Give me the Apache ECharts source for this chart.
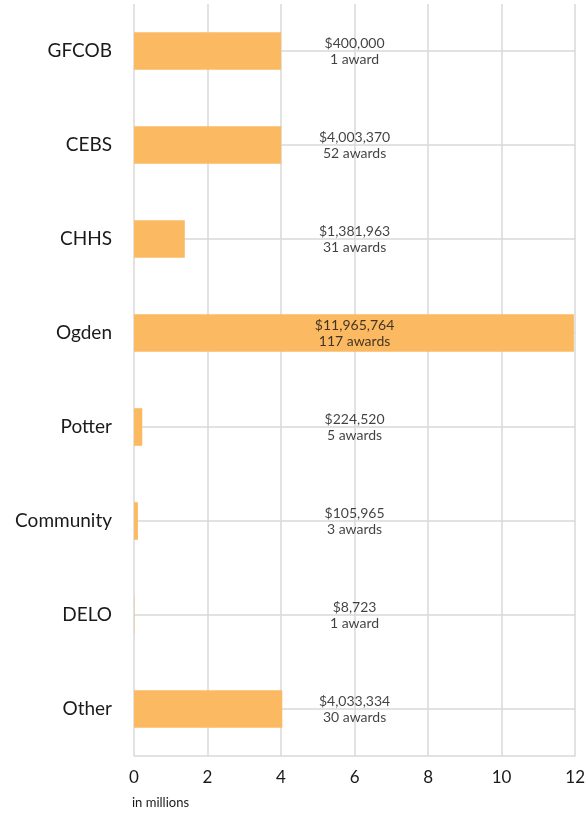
<!DOCTYPE html>
<html><head><meta charset="utf-8">
<script src="https://cdn.jsdelivr.net/npm/echarts@6/dist/echarts.min.js"></script>
<style>html,body{margin:0;padding:0;background:#fff}#c{width:588px;height:813px}</style>
</head><body><div id="c"></div>
<script>
const categories = ['GFCOB','CEBS','CHHS','Ogden','Potter','Community','DELO','Other'];
const barValues = [4.0, 4.003370, 1.381963, 11.965764, 0.224520, 0.105965, 0.008723, 4.033334];
const amountLabels = ['$400,000','$4,003,370','$1,381,963','$11,965,764','$224,520','$105,965','$8,723','$4,033,334'];
const awardLabels = ['1 award','52 awards','31 awards','117 awards','5 awards','3 awards','1 award','30 awards'];
const xTicks = [0,2,4,6,8,10,12];
const labelX = 6;

const FONT = 'Lato, "Noto Sans", sans-serif';
const chart = echarts.init(document.getElementById('c'), null, {renderer:'canvas'});
chart.setOption({
  animation: false,
  title: {text:'in millions', left:127, top:791, textStyle:{fontFamily:FONT, fontSize:13, fontWeight:'normal', color:'#1a1a1a'}},
  grid: {left:134, right:12, top:4, bottom:57},
  xAxis: {type:'value', min:xTicks[0], max:xTicks[xTicks.length-1], interval:2,
    axisLine:{show:true, lineStyle:{color:'#d9d9d9', width:1.5}}, axisTick:{show:false},
    axisLabel:{fontFamily:FONT, fontSize:17, color:'#1a1a1a', margin:13},
    splitLine:{show:true, lineStyle:{color:'#d9d9d9', width:1.5}}},
  yAxis: {type:'category', data:categories, inverse:true,
    axisLine:{show:false}, axisTick:{show:false},
    axisLabel:{fontFamily:FONT, fontSize:19, color:'#1a1a1a', margin:22},
    splitLine:{show:true, alignWithLabel:true, lineStyle:{color:'#d9d9d9', width:1.5}}},
  series: [
    {type:'bar', data:barValues, barWidth:'40%', itemStyle:{color:'#fbb962'}},
    {type:'scatter', symbolSize:0, silent:true,
      data: categories.map((c,i)=>[labelX, c]),
      label:{show:true, position:'inside', fontFamily:FONT, fontSize:14, lineHeight:16, color:'#111',
        formatter: p => amountLabels[p.dataIndex] + '\n' + awardLabels[p.dataIndex]}}
  ]
});
</script></body></html>
